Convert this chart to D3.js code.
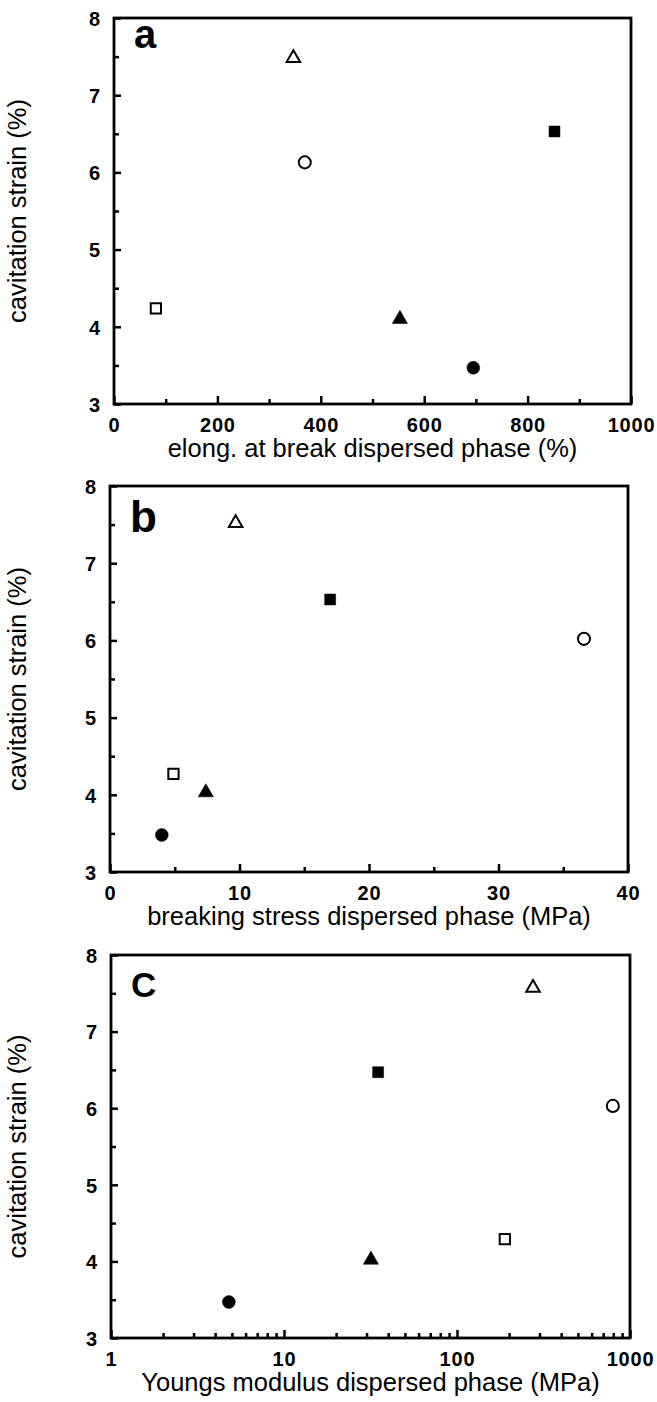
<!DOCTYPE html>
<html lang="en">
<head>
<meta charset="utf-8">
<title>Cavitation strain vs dispersed phase properties</title>
<script src="https://cdn.jsdelivr.net/npm/d3@7/dist/d3.min.js"></script>
<style>
  body { margin: 0; background: #fff; }
  text { font-family: "Liberation Sans", Arial, Helvetica, sans-serif; fill: #000; }
  .tick-label { font-size: 20px; font-weight: bold; letter-spacing: 0.8px; }
  .axis-title { font-size: 25.5px; }
  .panel-letter { font-weight: bold; }
</style>
</head>
<body>
<script>
// marker for each sample, same order in every panel
var markers = ["openTriangle", "openCircle", "filledSquare", "openSquare", "filledTriangle", "filledCircle"];

// panel a: elongation at break (%)
var elongation = [347, 369, 852, 81, 553, 695];
var strainA = [7.48, 6.13, 6.53, 4.24, 4.10, 3.47];

// panel b: breaking stress (MPa)
var breakingStress = [9.7, 36.6, 17.0, 4.9, 7.4, 4.0];
var strainB = [7.52, 6.02, 6.53, 4.27, 4.03, 3.48];

// panel c: Youngs modulus (MPa), log axis
var youngsModulus = [275, 796, 35, 189, 31.8, 4.8];
var strainC = [7.57, 6.03, 6.47, 4.29, 4.02, 3.47];

var yTicks = [3, 4, 5, 6, 7, 8];
var xTicksA = [0, 200, 400, 600, 800, 1000];
var xTicksB = [0, 10, 20, 30, 40];
var xTicksC = [1, 10, 100, 1000];

var svg = d3.select("body").append("svg")
    .attr("width", 657)
    .attr("height", 1402);

var panels = [
  { letter: "a", size: 40, ly: 30, x: elongation, y: strainA, box: [114, 631, 18, 404],
    scale: d3.scaleLinear().domain([0, 1000]), ticks: xTicksA, minor: d3.range(100, 1000, 200),
    title: "elong. at break dispersed phase (%)" },
  { letter: "b", size: 44, ly: 46, x: breakingStress, y: strainB, box: [110, 628, 486, 872],
    scale: d3.scaleLinear().domain([0, 40]), ticks: xTicksB, minor: d3.range(5, 40, 10),
    title: "breaking stress dispersed phase (MPa)" },
  { letter: "C", size: 35, ly: 42, x: youngsModulus, y: strainC, box: [111, 630, 955, 1338],
    scale: d3.scaleLog().domain([1, 1000]), ticks: xTicksC,
    minor: [2,3,4,5,6,7,8,9,20,30,40,50,60,70,80,90,200,300,400,500,600,700,800,900],
    title: "Youngs modulus dispersed phase (MPa)" }
];

panels.forEach(function(p) {
  var left = p.box[0], right = p.box[1], top = p.box[2], bottom = p.box[3];
  var x = p.scale.range([left, right]);
  var y = d3.scaleLinear().domain([3, 8]).range([bottom, top]);
  var g = svg.append("g");

  // frame
  g.append("rect")
    .attr("x", left).attr("y", top)
    .attr("width", right - left).attr("height", bottom - top)
    .attr("fill", "none").attr("stroke", "#000").attr("stroke-width", 2.8);

  // y axis, ticks inside
  var yAxis = d3.axisLeft(y).tickValues(yTicks).tickSize(-7).tickFormat(d3.format("d"));
  var ya = g.append("g").attr("transform", "translate(" + left + ",0)").call(yAxis);
  ya.select(".domain").remove();
  ya.selectAll("line").attr("stroke-width", 2.5);
  ya.selectAll("text").attr("class", "tick-label").attr("x", -13).attr("dy", "0.36em");

  var yMinor = d3.axisLeft(y).tickValues([3.5, 4.5, 5.5, 6.5, 7.5]).tickSize(-5).tickFormat("");
  var ym = g.append("g").attr("transform", "translate(" + left + ",0)").call(yMinor);
  ym.select(".domain").remove();
  ym.selectAll("line").attr("stroke-width", 2.5);

  // x axis, ticks inside
  var xAxis = d3.axisBottom(x).tickValues(p.ticks).tickSize(-8).tickFormat(d3.format("d"));
  var xa = g.append("g").attr("transform", "translate(0," + bottom + ")").call(xAxis);
  xa.select(".domain").remove();
  xa.selectAll("line").attr("stroke-width", 2.5);
  xa.selectAll("text").attr("class", "tick-label").attr("y", 28).attr("dy", 0);

  var xMinor = d3.axisBottom(x).tickValues(p.minor).tickSize(-5).tickFormat("");
  var xm = g.append("g").attr("transform", "translate(0," + bottom + ")").call(xMinor);
  xm.select(".domain").remove();
  xm.selectAll("line").attr("stroke-width", 2.5);

  // axis titles
  g.append("text")
    .attr("class", "axis-title")
    .attr("x", (left + right) / 2)
    .attr("y", bottom + 53)
    .attr("text-anchor", "middle")
    .text(p.title);

  g.append("text")
    .attr("class", "axis-title")
    .attr("transform", "translate(26," + (top + bottom) / 2 + ") rotate(-90)")
    .attr("text-anchor", "middle")
    .text("cavitation strain (%)");

  // panel letter
  g.append("text")
    .attr("class", "panel-letter")
    .attr("x", left + 20)
    .attr("y", top + p.ly)
    .style("font-size", p.size + "px")
    .text(p.letter);

  // points
  var sym = {
    openTriangle: [d3.symbolTriangle, 80, false],
    filledTriangle: [d3.symbolTriangle, 100, true],
    openCircle: [d3.symbolCircle, 115, false],
    filledCircle: [d3.symbolCircle, 130, true],
    openSquare: [d3.symbolSquare, 105, false],
    filledSquare: [d3.symbolSquare, 120, true]
  };
  g.selectAll(".pt")
    .data(markers.map(function(m, i) { return { m: m, x: p.x[i], y: p.y[i] }; }))
    .enter().append("path")
    .attr("class", "pt")
    .attr("transform", function(d) { return "translate(" + x(d.x) + "," + y(d.y) + ")"; })
    .attr("d", function(d) { return d3.symbol().type(sym[d.m][0]).size(sym[d.m][1])(); })
    .attr("fill", function(d) { return sym[d.m][2] ? "#000" : "#fff"; })
    .attr("stroke", "#000")
    .attr("stroke-width", function(d) { return sym[d.m][2] ? 0.5 : 2; });
});
</script>
</body>
</html>
